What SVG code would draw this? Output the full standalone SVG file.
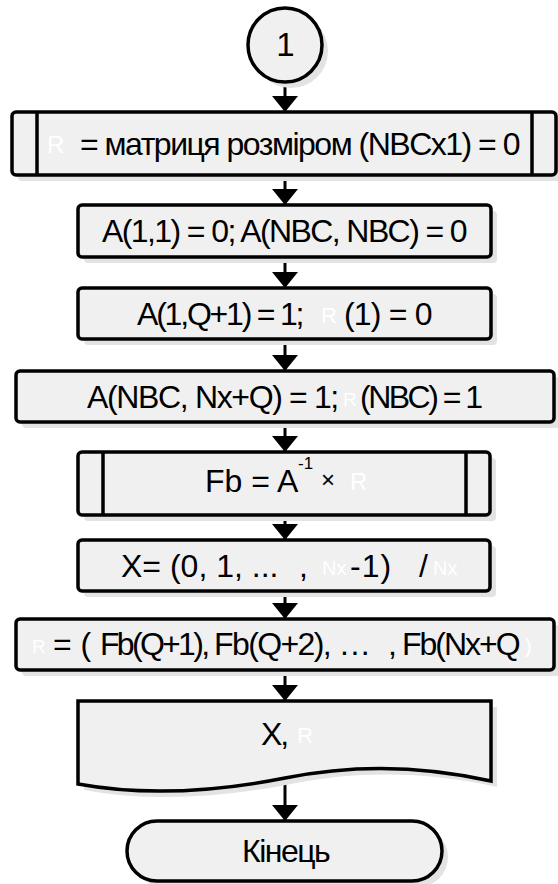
<svg xmlns="http://www.w3.org/2000/svg" width="558" height="884" viewBox="0 0 558 884">
<style>
.sh{fill:#e3e3e3}
.bx{fill:#f0f0f0;stroke:#000;stroke-width:3.5}
.ln{fill:none;stroke:#000;stroke-width:3.5}
.t{font-family:"Liberation Sans",Arial,sans-serif;font-size:32px;fill:#000}
.w{fill:#fff;font-size:22px}
.c{stroke:#000;stroke-width:3;fill:none;marker-end:url(#ah)}
</style>
<defs>
<marker id="ah" markerUnits="userSpaceOnUse" markerWidth="16" markerHeight="26" viewBox="0 0 16 26" refX="16" refY="13" orient="auto">
<path d="M0,0 L16,13 L0,26 Z" fill="#000"/>
</marker>
</defs>
<rect width="558" height="884" fill="#fff"/>
<g id="connectors">
<line class="c" x1="285" y1="83" x2="285" y2="112"/>
<line class="c" x1="285" y1="176" x2="285" y2="205"/>
<line class="c" x1="285" y1="258" x2="285" y2="288"/>
<line class="c" x1="285" y1="340" x2="285" y2="371"/>
<line class="c" x1="285" y1="423" x2="285" y2="452"/>
<line class="c" x1="285" y1="516" x2="285" y2="540"/>
<line class="c" x1="285" y1="592" x2="285" y2="619"/>
<line class="c" x1="285" y1="671" x2="285" y2="701"/>
<line class="c" x1="285" y1="779" x2="285" y2="821"/>
</g>
<g id="start">
<circle class="sh" cx="291" cy="51" r="37"/>
<circle class="bx" cx="285" cy="45" r="37"/>
<text class="t" x="285.5" y="56" text-anchor="middle" style="font-size:33px">1</text>
</g>
<g id="n1">
<rect class="sh" x="18" y="118" width="544" height="63" rx="4"/>
<rect class="bx" x="12" y="112" width="544" height="63" rx="4"/>
<line class="ln" x1="37" y1="112" x2="37" y2="175"/>
<line class="ln" x1="532" y1="112" x2="532" y2="175"/>
<text class="t w" x="47" y="153" style="font-size:24px">R</text>
<text class="t" x="80" y="155" letter-spacing="-1.5">= матриця розміром (NBCx1) = 0</text>
</g>
<g id="n2">
<rect class="sh" x="84" y="211" width="413" height="52" rx="4"/>
<rect class="bx" x="78" y="205" width="413" height="52" rx="4"/>
<text class="t" x="102" y="242" letter-spacing="-1.6">A(1,1) = 0; A(NBC, NBC) = 0</text>
</g>
<g id="n3">
<rect class="sh" x="84" y="294" width="413" height="51" rx="4"/>
<rect class="bx" x="78" y="288" width="413" height="51" rx="4"/>
<text class="t" x="137" y="325" letter-spacing="-2.2">A(1,Q+1) = 1;</text>
<text class="t w" x="321" y="323">R</text>
<text class="t" x="344" y="325" letter-spacing="-0.8">(1) = 0</text>
</g>
<g id="n4">
<rect class="sh" x="22" y="377" width="538" height="51" rx="4"/>
<rect class="bx" x="16" y="371" width="538" height="51" rx="4"/>
<text class="t" x="87" y="408" letter-spacing="-1.35">A(NBC, Nx+Q) = 1;</text>
<text class="t w" x="343" y="406" style="font-size:19px">R</text>
<text class="t" x="360" y="408" letter-spacing="-2.5">(NBC) = 1</text>
</g>
<g id="n5">
<rect class="sh" x="84" y="458" width="412" height="63" rx="4"/>
<rect class="bx" x="78" y="452" width="412" height="63" rx="4"/>
<line class="ln" x1="103" y1="452" x2="103" y2="515"/>
<line class="ln" x1="466" y1="452" x2="466" y2="515"/>
<text class="t" x="205" y="492">Fb = A</text>
<text class="t" x="298" y="469" style="font-size:17px">-1</text>
<text class="t" x="321" y="488" style="font-size:24px">×</text>
<text class="t w" x="350" y="490" style="font-size:24px">R</text>
</g>
<g id="n6">
<rect class="sh" x="84" y="546" width="412" height="51" rx="4"/>
<rect class="bx" x="78" y="540" width="412" height="51" rx="4"/>
<text class="t" x="121" y="577">X= (0, 1, ...</text>
<text class="t" x="299" y="577">,</text>
<text class="t w" x="322" y="575" style="font-size:20px">Nx</text>
<text class="t" x="350" y="577" letter-spacing="1">-1)</text>
<text class="t" x="419" y="577">/</text>
<text class="t w" x="433" y="575" style="font-size:20px">Nx</text>
</g>
<g id="n7">
<rect class="sh" x="22" y="625" width="538" height="51" rx="4"/>
<rect class="bx" x="16" y="619" width="538" height="51" rx="4"/>
<text class="t w" x="32" y="653" style="font-size:19px">R</text>
<text class="t" x="53" y="655">= (</text>
<text class="t" x="100" y="655" letter-spacing="-2.7">Fb(Q+1),</text>
<text class="t" x="214" y="655" letter-spacing="-1.6">Fb(Q+2),</text>
<text class="t" x="340" y="655" letter-spacing="1.5">...</text>
<text class="t" x="388" y="655">,</text>
<text class="t" x="402" y="655" letter-spacing="-2">Fb(Nx+Q</text>
<text class="t w" x="525" y="653" style="font-size:20px">)</text>
</g>
<g id="n8">
<path class="sh" d="M84,707 H497 V787 C430,772 360,770 291,784 C220,798 150,802 84,790 Z"/>
<path class="bx" d="M78,701 H491 V781 C424,766 354,764 285,778 C214,792 144,796 78,784 Z"/>
<text class="t" x="261" y="745" letter-spacing="-2">X,</text>
<text class="t w" x="297" y="743">R</text>
</g>
<g id="end">
<rect class="sh" x="133" y="827" width="315" height="60" rx="30"/>
<rect class="bx" x="127" y="821" width="315" height="60" rx="30"/>
<text class="t" x="242" y="862" letter-spacing="-1.5">Кінець</text>
</g>
</svg>
